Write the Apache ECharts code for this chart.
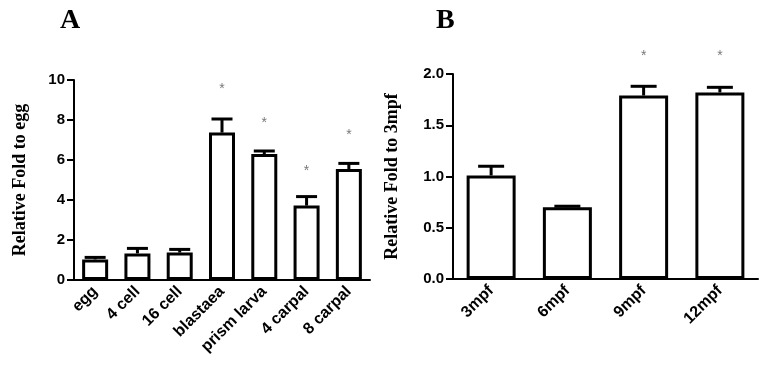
<!DOCTYPE html>
<html>
<head>
<meta charset="utf-8">
<script src="https://cdn.jsdelivr.net/npm/echarts@6/dist/echarts.min.js"></script>
<style>html,body{margin:0;padding:0;background:#fff}#c{width:765px;height:366px}</style>
</head>
<body>
<div id="c"></div>
<script>
var catsA = ['egg', '4 cell', '16 cell', 'blastaea', 'prism larva', '4 carpal', '8 carpal'];
var valsA = [1.03, 1.33, 1.37, 7.37, 6.30, 3.72, 5.55];
var errA = [0.10, 0.25, 0.16, 0.68, 0.15, 0.45, 0.28];
var starA = [null, null, null, 9.67, 8.0, 5.6, 7.37];
var ticksA = [0, 2, 4, 6, 8, 10];

var catsB = ['3mpf', '6mpf', '9mpf', '12mpf'];
var valsB = [1.01, 0.70, 1.79, 1.82];
var errB = [0.09, 0.01, 0.09, 0.05];
var starB = [null, null, 2.2, 2.2];
var ticksB = ['0.0', '0.5', '1.0', '1.5', '2.0'];

var SANS = 'Liberation Sans, Arial, sans-serif';
var SERIF = 'Liberation Serif, Times New Roman, serif';

function errSeries(idx, vals, errs, capW) {
  return {
    type: 'custom', xAxisIndex: idx, yAxisIndex: idx, clip: false, z: 3,
    data: vals.map(function (v, i) { return [i, v, v + errs[i]]; }),
    renderItem: function (params, api) {
      var p0 = api.coord([api.value(0), api.value(1)]);
      var p1 = api.coord([api.value(0), api.value(2)]);
      var st = { stroke: '#000', lineWidth: 3 };
      return { type: 'group', children: [
        { type: 'line', shape: { x1: p0[0], y1: p0[1], x2: p1[0], y2: p1[1] }, style: st },
        { type: 'line', shape: { x1: p1[0] - capW / 2, y1: p1[1], x2: p1[0] + capW / 2, y2: p1[1] }, style: st }
      ]};
    }
  };
}
function starSeries(idx, stars) {
  return {
    type: 'scatter', xAxisIndex: idx, yAxisIndex: idx, clip: false, symbolSize: 1,
    itemStyle: { color: 'rgba(0,0,0,0)' }, silent: true, z: 4,
    data: stars.map(function (v, i) { return v === null ? null : [i, v]; }),
    label: { show: true, position: 'inside', formatter: '*', color: '#555', fontSize: 14,
      fontFamily: SANS, offset: [0, 3] }
  };
}
function xAx(idx, cats) {
  return {
    type: 'category', gridIndex: idx, data: cats, boundaryGap: true,
    axisLine: { lineStyle: { color: '#000', width: 2 } },
    axisTick: { alignWithLabel: true, length: 6, lineStyle: { color: '#000', width: 2 } },
    axisLabel: { rotate: 45, color: '#000', fontWeight: 'bold', fontSize: 16, fontFamily: SANS, margin: 9, interval: 0 }
  };
}
function yAx(idx, max, interval, labels, name, gap) {
  return {
    type: 'value', gridIndex: idx, min: 0, max: max, interval: interval,
    name: name, nameLocation: 'middle', nameGap: gap,
    nameTextStyle: { color: '#000', fontFamily: SERIF, fontWeight: 'bold', fontSize: 18 },
    splitLine: { show: false },
    axisLine: { show: true, lineStyle: { color: '#000', width: 2 } },
    axisTick: { show: true, inside: false, length: 7, lineStyle: { color: '#000', width: 2 } },
    axisLabel: { color: '#000', fontWeight: 'bold', fontSize: 15, fontFamily: SANS, margin: 9,
      formatter: function (v) {
        var i = Math.round(v / interval);
        return labels[i] !== undefined ? String(labels[i]) : '';
      } }
  };
}

var chart = echarts.init(document.getElementById('c'), null, { renderer: 'canvas' });
chart.setOption({
  animation: false,
  backgroundColor: '#fff',
  title: [
    { text: 'A', left: 55, top: 2, textStyle: { fontFamily: SERIF, fontWeight: 'bold', fontSize: 28, color: '#000' } },
    { text: 'B', left: 431, top: 2, textStyle: { fontFamily: SERIF, fontWeight: 'bold', fontSize: 28, color: '#000' } }
  ],
  grid: [
    { left: 74, right: 395, top: 80, bottom: 86 },
    { left: 453, right: 7, top: 74, bottom: 87 }
  ],
  xAxis: [xAx(0, catsA), xAx(1, catsB)],
  yAxis: [
    yAx(0, 10, 2, ticksA, 'Relative Fold to egg', 45),
    yAx(1, 2, 0.5, ticksB, 'Relative Fold to 3mpf', 52)
  ],
  series: [
    { type: 'bar', xAxisIndex: 0, yAxisIndex: 0, data: valsA, barWidth: 26, z: 2,
      itemStyle: { color: '#fff', borderColor: '#000', borderWidth: 3 } },
    errSeries(0, valsA, errA, 21),
    starSeries(0, starA),
    { type: 'bar', xAxisIndex: 1, yAxisIndex: 1, data: valsB, barWidth: 49, z: 2,
      itemStyle: { color: '#fff', borderColor: '#000', borderWidth: 3 } },
    errSeries(1, valsB, errB, 26),
    starSeries(1, starB)
  ]
});
</script>
</body>
</html>
